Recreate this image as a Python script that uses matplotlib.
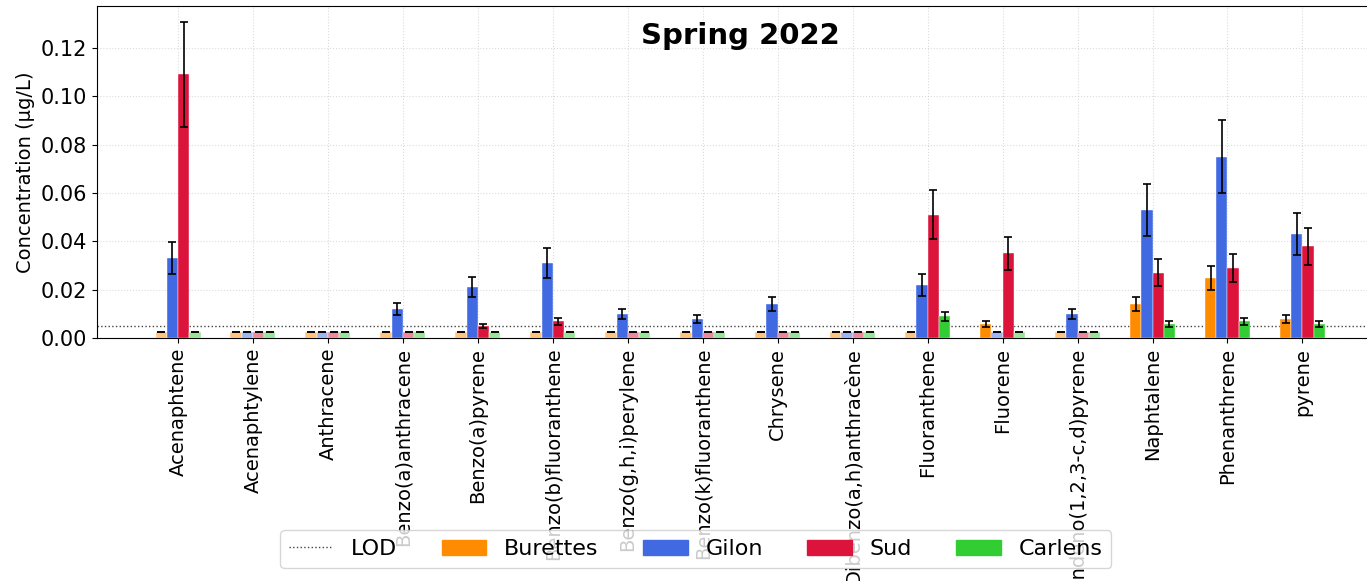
import numpy as np
import matplotlib
matplotlib.use("Agg")
import matplotlib.pyplot as plt
from matplotlib.colors import to_rgba
from matplotlib.patches import Patch
from matplotlib.lines import Line2D

nan = np.nan

categories = ['Acenaphtene', 'Acenaphtylene', 'Anthracene', 'Benzo(a)anthracene',
              'Benzo(a)pyrene', 'Benzo(b)fluoranthene', 'Benzo(g,h,i)perylene',
              'Benzo(k)fluoranthene', 'Chrysene', 'Dibenzo(a,h)anthracène',
              'Fluoranthene', 'Fluorene', 'Indeno(1,2,3-c,d)pyrene', 'Naphtalene',
              'Phenanthrene', 'pyrene']

LOD = 0.005

# mean concentrations (µg/L), nan = below LOD
burettes = [nan, nan, nan, nan, nan, nan, nan, nan, nan, nan, nan, 0.006, nan, 0.014, 0.025, 0.008]
gilon = [0.033, nan, nan, 0.012, 0.021, 0.031, 0.010, 0.008, 0.014, nan, 0.022, nan, 0.010, 0.053, 0.075, 0.043]
sud = [0.109, nan, nan, nan, 0.005, 0.007, nan, nan, nan, nan, 0.051, 0.035, nan, 0.027, 0.029, 0.038]
carlens = [nan, nan, nan, nan, nan, nan, nan, nan, nan, nan, 0.009, nan, nan, 0.006, 0.007, 0.006]

# uncertainties
burettes_err = [0, 0, 0, 0, 0, 0, 0, 0, 0, 0, 0, 0.0012, 0, 0.0028, 0.005, 0.0016]
gilon_err = [0.0066, 0, 0, 0.0025, 0.0042, 0.0062, 0.0021, 0.0016, 0.0029, 0, 0.0045, 0, 0.0021, 0.0106, 0.015, 0.0086]
sud_err = [0.0218, 0, 0, 0, 0.001, 0.0015, 0, 0, 0, 0, 0.0102, 0.007, 0, 0.0055, 0.0058, 0.0076]
carlens_err = [0, 0, 0, 0, 0, 0, 0, 0, 0, 0, 0.0018, 0, 0, 0.0012, 0.0014, 0.0012]

sites = ['Burettes', 'Gilon', 'Sud', 'Carlens']
colors = ['darkorange', 'royalblue', 'crimson', 'limegreen']
values = [burettes, gilon, sud, carlens]
errors = [burettes_err, gilon_err, sud_err, carlens_err]

fig = plt.figure(figsize=(13.67, 5.81), dpi=100)
ax = fig.add_axes([0.071, 0.418, 0.941, 0.572])

x = np.arange(len(categories))
w = 0.15

for i, (site, col) in enumerate(zip(sites, colors)):
    v = np.array(values[i], dtype=float)
    below = np.isnan(v)
    # non-detects drawn at LOD/2, faded
    h = np.where(below, LOD / 2, v)
    bar_cols = [to_rgba(col, 0.5 if b else 1.0) for b in below]
    pos = x + (i - 1.5) * w
    ax.bar(pos, h, width=w, color=bar_cols, edgecolor='white', linewidth=0.3, zorder=2)
    ax.errorbar(pos, h, yerr=errors[i], fmt='none', ecolor='black',
                elinewidth=1.2, capsize=3, capthick=1.2, zorder=3)

ax.axhline(LOD, color='#444444', linestyle=':', linewidth=1, zorder=1)

ax.set_xticks(x)
ax.set_xticklabels(categories, rotation=90, fontsize=14)
ax.tick_params(axis='y', labelsize=15)
ax.set_ylabel('Concentration (µg/L)', fontsize=14)
ax.grid(True, linestyle=':', color='#cccccc', linewidth=0.8, alpha=0.7, zorder=0)
ax.set_axisbelow(True)
ax.text(0.5, 0.91, 'Spring 2022', transform=ax.transAxes, ha='center', va='center',
        fontsize=21, fontweight='bold')

handles = [Line2D([], [], color='#444444', linestyle=':', linewidth=1)]
handles += [Patch(color=c) for c in colors]
fig.legend(handles, ['LOD'] + sites, loc='lower center', bbox_to_anchor=(0.509, 0.003),
           ncol=5, fontsize=16)

fig.savefig('out.png', dpi=100)
